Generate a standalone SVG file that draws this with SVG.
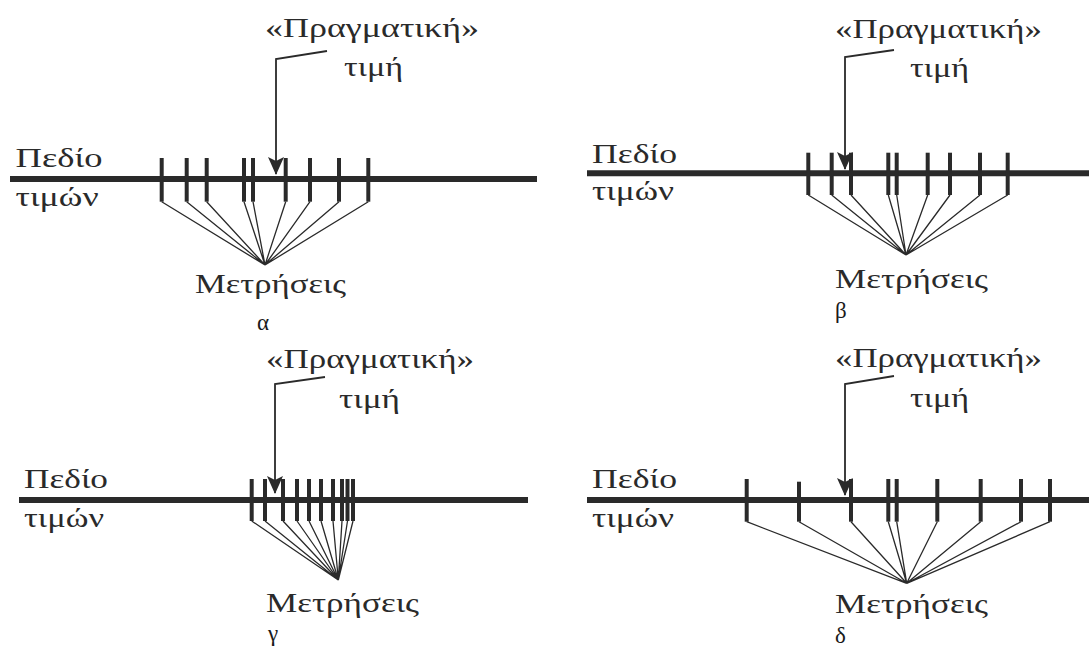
<svg xmlns="http://www.w3.org/2000/svg" width="1089" height="650" viewBox="0 0 1089 650">
<style>
.t{font-family:"Liberation Serif","Times New Roman",serif;font-size:27px;fill:#2a2a2a}
.lbl{font-family:"Liberation Serif","Times New Roman",serif;font-size:23px;fill:#1a1a1a}
.axis{stroke:#2a2a2a;stroke-width:6}
.tick{stroke:#2a2a2a;stroke-width:4}
.fan{stroke:#2a2a2a;stroke-width:1.3;fill:none}
.lead{stroke:#2a2a2a;stroke-width:1.8;fill:none}
</style>
<defs>
<marker id="arr" viewBox="0 0 18 16" refX="17" refY="8" markerWidth="18" markerHeight="16" markerUnits="userSpaceOnUse" orient="auto">
<path d="M0,0 L18,8 L0,16 L4,8 Z" fill="#2a2a2a"/>
</marker>
</defs>
<rect width="1089" height="650" fill="#fff"/>

<!-- Panel alpha -->
<g id="panel-a">
<line class="axis" x1="10" y1="179" x2="537" y2="179"/>
<g id="ticks-a">
<line class="tick" x1="161.7" y1="158" x2="161.7" y2="201.7"/>
<line class="tick" x1="186.7" y1="158" x2="186.7" y2="201.7"/>
<line class="tick" x1="206.7" y1="158" x2="206.7" y2="201.7"/>
<line class="tick" x1="244" y1="158" x2="244" y2="201.7"/>
<line class="tick" x1="253" y1="158" x2="253" y2="201.7"/>
<line class="tick" x1="285.7" y1="158" x2="285.7" y2="201.7"/>
<line class="tick" x1="310" y1="158" x2="310" y2="201.7"/>
<line class="tick" x1="339" y1="158" x2="339" y2="201.7"/>
<line class="tick" x1="368.3" y1="158" x2="368.3" y2="201.7"/>
</g>
<g id="label-true-a"><text class="t" x="265" y="36.5" textLength="214" lengthAdjust="spacingAndGlyphs">«Πραγματική»</text><text class="t" x="344" y="76" textLength="59" lengthAdjust="spacingAndGlyphs">τιμή</text></g>
<g id="label-range-a"><text class="t" x="15.6" y="167" textLength="87" lengthAdjust="spacingAndGlyphs">Πεδίο</text><text class="t" x="15.6" y="206" textLength="83" lengthAdjust="spacingAndGlyphs">τιμών</text></g>
<g id="label-meas-a"><text class="t" x="195" y="293" textLength="151" lengthAdjust="spacingAndGlyphs">Μετρήσεις</text></g>
<g id="caption-a"><text class="lbl" x="257" y="330">α</text></g>
</g>

<!-- Panel beta -->
<g id="panel-b">
<line class="axis" x1="587" y1="173.3" x2="1089" y2="173.3"/>
<g id="ticks-b">
<line class="tick" x1="808.3" y1="152.7" x2="808.3" y2="195"/>
<line class="tick" x1="831.7" y1="152.7" x2="831.7" y2="195"/>
<line class="tick" x1="851" y1="152.7" x2="851" y2="195"/>
<line class="tick" x1="888.3" y1="152.7" x2="888.3" y2="195"/>
<line class="tick" x1="896.7" y1="152.7" x2="896.7" y2="195"/>
<line class="tick" x1="927.7" y1="152.7" x2="927.7" y2="195"/>
<line class="tick" x1="950" y1="152.7" x2="950" y2="195"/>
<line class="tick" x1="980" y1="152.7" x2="980" y2="195"/>
<line class="tick" x1="1007.7" y1="152.7" x2="1007.7" y2="195"/>
</g>
<g id="label-true-b"><text class="t" x="835" y="37.5" textLength="207" lengthAdjust="spacingAndGlyphs">«Πραγματική»</text><text class="t" x="910" y="77" textLength="59" lengthAdjust="spacingAndGlyphs">τιμή</text></g>
<g id="label-range-b"><text class="t" x="592" y="163" textLength="85" lengthAdjust="spacingAndGlyphs">Πεδίο</text><text class="t" x="592" y="200" textLength="82" lengthAdjust="spacingAndGlyphs">τιμών</text></g>
<g id="label-meas-b"><text class="t" x="835" y="288" textLength="153" lengthAdjust="spacingAndGlyphs">Μετρήσεις</text></g>
<g id="caption-b"><text class="lbl" x="835" y="318">β</text></g>
</g>

<!-- Panel gamma -->
<g id="panel-c">
<line class="axis" x1="19" y1="500" x2="528" y2="500"/>
<g id="ticks-c">
<line class="tick" x1="251.7" y1="479" x2="251.7" y2="521"/>
<line class="tick" x1="265" y1="479" x2="265" y2="521"/>
<line class="tick" x1="283" y1="479" x2="283" y2="521"/>
<line class="tick" x1="297" y1="479" x2="297" y2="521"/>
<line class="tick" x1="309" y1="479" x2="309" y2="521"/>
<line class="tick" x1="321" y1="479" x2="321" y2="521"/>
<line class="tick" x1="333" y1="479" x2="333" y2="521"/>
<line class="tick" x1="342" y1="479" x2="342" y2="521"/>
<line class="tick" x1="347.5" y1="479" x2="347.5" y2="521"/>
<line class="tick" x1="353" y1="479" x2="353" y2="521"/>
</g>
<g id="label-true-c"><text class="t" x="266" y="368" textLength="208" lengthAdjust="spacingAndGlyphs">«Πραγματική»</text><text class="t" x="339" y="408" textLength="61" lengthAdjust="spacingAndGlyphs">τιμή</text></g>
<g id="label-range-c"><text class="t" x="24" y="488" textLength="84" lengthAdjust="spacingAndGlyphs">Πεδίο</text><text class="t" x="24" y="527" textLength="80" lengthAdjust="spacingAndGlyphs">τιμών</text></g>
<g id="label-meas-c"><text class="t" x="266" y="612" textLength="153" lengthAdjust="spacingAndGlyphs">Μετρήσεις</text></g>
<g id="caption-c"><text class="lbl" x="268" y="641">γ</text></g>
</g>

<!-- Panel delta -->
<g id="panel-d">
<line class="axis" x1="587" y1="500" x2="1089" y2="500"/>
<g id="ticks-d">
<line class="tick" x1="746.7" y1="479" x2="746.7" y2="521.7"/>
<line class="tick" x1="799" y1="481.7" x2="799" y2="521.7"/>
<line class="tick" x1="851" y1="479" x2="851" y2="521.7"/>
<line class="tick" x1="888.3" y1="479" x2="888.3" y2="521.7"/>
<line class="tick" x1="896.7" y1="479" x2="896.7" y2="521.7"/>
<line class="tick" x1="937.3" y1="479" x2="937.3" y2="521.7"/>
<line class="tick" x1="980.7" y1="479" x2="980.7" y2="521.7"/>
<line class="tick" x1="1021" y1="479" x2="1021" y2="521.7"/>
<line class="tick" x1="1050" y1="479" x2="1050" y2="521.7"/>
</g>
<g id="label-true-d"><text class="t" x="835" y="367" textLength="207" lengthAdjust="spacingAndGlyphs">«Πραγματική»</text><text class="t" x="910" y="407" textLength="59" lengthAdjust="spacingAndGlyphs">τιμή</text></g>
<g id="label-range-d"><text class="t" x="592" y="488" textLength="85" lengthAdjust="spacingAndGlyphs">Πεδίο</text><text class="t" x="592" y="527" textLength="82" lengthAdjust="spacingAndGlyphs">τιμών</text></g>
<g id="label-meas-d"><text class="t" x="835" y="613" textLength="153" lengthAdjust="spacingAndGlyphs">Μετρήσεις</text></g>
<g id="caption-d"><text class="lbl" x="835" y="643">δ</text></g>
</g>

<!-- Connectors -->
<g id="connectors">
<g id="leaders">
<polyline class="lead" points="327,51 276,59 276,174" marker-end="url(#arr)"/>
<polyline class="lead" points="894,50 845,57 845,169" marker-end="url(#arr)"/>
<polyline class="lead" points="325,377 275,384 275,493" marker-end="url(#arr)"/>
<polyline class="lead" points="894,376 845,384 845,495" marker-end="url(#arr)"/>
</g>
<g id="fans-a">
<path class="fan" d="M161.7,201.7L265,265M186.7,201.7L265,265M206.7,201.7L265,265M244,201.7L265,265M253,201.7L265,265M285.7,201.7L265,265M310,201.7L265,265M339,201.7L265,265M368.3,201.7L265,265"/>
</g>
<g id="fans-b">
<path class="fan" d="M808.3,195L906,255M831.7,195L906,255M851,195L906,255M888.3,195L906,255M896.7,195L906,255M927.7,195L906,255M950,195L906,255M980,195L906,255M1007.7,195L906,255"/>
</g>
<g id="fans-c">
<path class="fan" d="M251.7,521L338.3,580M265,521L338.3,580M283,521L338.3,580M297,521L338.3,580M309,521L338.3,580M321,521L338.3,580M333,521L338.3,580M342,521L338.3,580M347.5,521L338.3,580M353,521L338.3,580"/>
</g>
<g id="fans-d">
<path class="fan" d="M746.7,521.7L906.7,583.3M799,521.7L906.7,583.3M851,521.7L906.7,583.3M888.3,521.7L906.7,583.3M896.7,521.7L906.7,583.3M937.3,521.7L906.7,583.3M980.7,521.7L906.7,583.3M1021,521.7L906.7,583.3M1050,521.7L906.7,583.3"/>
</g>
</g>
</svg>
